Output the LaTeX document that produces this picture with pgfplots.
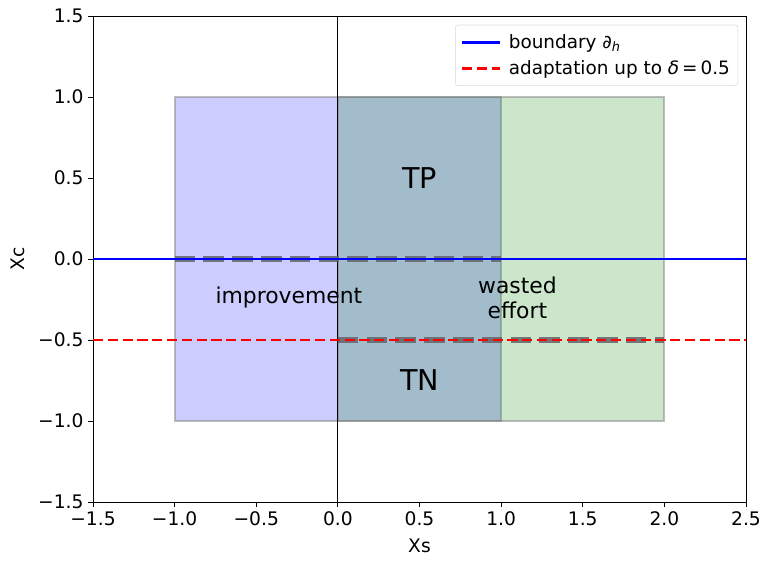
\documentclass[border=0pt]{standalone}
\usepackage{pgfplots}
\pgfplotsset{compat=1.18}
\usepackage{fontspec}
\setmainfont{DejaVu Sans}
\definecolor{mplgreen}{RGB}{0,128,0}
\definecolor{dashgray}{RGB}{100,100,105}
\begin{document}
\begin{tikzpicture}
\begin{axis}[name=ax,
  scale only axis, width=489.75pt, height=364.5pt,
  xmin=-1.5, xmax=2.5, ymin=-1.5, ymax=1.5,
  xtick={-1.5,-1,-0.5,0,0.5,1,1.5,2,2.5},
  xticklabels={−1.5,−1.0,−0.5,0.0,0.5,1.0,1.5,2.0,2.5},
  ytick={-1.5,-1,-0.5,0,0.5,1,1.5},
  yticklabels={−1.5,−1.0,−0.5,0.0,0.5,1.0,1.5},
  tick align=outside, tick pos=left, major tick length=3.6pt,
  every tick/.style={black, line width=0.6pt},
  axis line style={line width=0.6pt},
  tick label style={font=\fontsize{14}{16}\selectfont},
  label style={font=\fontsize{14}{16}\selectfont},
  xlabel={Xs}, ylabel={Xc},
  xlabel style={yshift=-3pt},
  ylabel style={yshift=3pt},
  clip=true,
  legend style={at={(rel axis cs:0.988,0.982)}, anchor=north east,
    draw=black!15, rounded corners=2pt, fill opacity=0.8, text opacity=1,
    font=\fontsize{13.8}{16}\selectfont, inner xsep=4pt, inner ysep=5pt,
    row sep=3.5pt},
  legend cell align=left,
  legend image code/.code={\draw[#1] (0pt,0pt) -- (28.5pt,0pt); \path (32pt,0pt);},
]
\addplot[forget plot, fill=blue, fill opacity=0.2, draw=gray, draw opacity=0.5, line width=1.5pt]
  coordinates {(-1,-1) (1,-1) (1,1) (-1,1)} -- cycle;
\addplot[forget plot, fill=mplgreen, fill opacity=0.2, draw=gray, draw opacity=0.5, line width=1.5pt]
  coordinates {(0,-1) (2,-1) (2,1) (0,1)} -- cycle;
\addplot[forget plot, black, line width=0.8pt] coordinates {(0,-1.5) (0,1.5)};
\addplot[forget plot, dashgray, opacity=0.85, line width=4pt, dash pattern=on 15.4pt off 6.2pt]
  coordinates {(-1,0) (1,0)};
\addplot[forget plot, dashgray, opacity=0.85, line width=4pt, dash pattern=on 15.4pt off 6.2pt]
  coordinates {(0,-0.5) (2,-0.5)};
\addplot[blue, line width=2.1pt] coordinates {(-1.5,0) (2.5,0)};
\addlegendentry{boundary {\itshape ∂}\textsubscript{\itshape h}}
\addplot[red, line width=2.1pt, dash pattern=on 7.7pt off 3.4pt] coordinates {(-1.5,-0.5) (2.5,-0.5)};
\addlegendentry{adaptation up to {\itshape δ}\,=\,0.5}
\node[font=\fontsize{21.5}{24}\selectfont] at (axis cs:0.5,0.5) {TP};
\node[font=\fontsize{21.5}{24}\selectfont] at (axis cs:0.5,-0.75) {TN};
\node[font=\fontsize{16.4}{18.5}\selectfont] at (axis cs:-0.3,-0.24) {improvement};
\node[font=\fontsize{16.4}{18.5}\selectfont, align=center] at (axis cs:1.1,-0.24) {wasted\\effort};
\end{axis}
\pgfresetboundingbox
\path[use as bounding box] ([shift={(-69.75pt,-43.5pt)}]ax.south west) rectangle ([shift={(11.25pt,12pt)}]ax.north east);
\end{tikzpicture}
\end{document}
